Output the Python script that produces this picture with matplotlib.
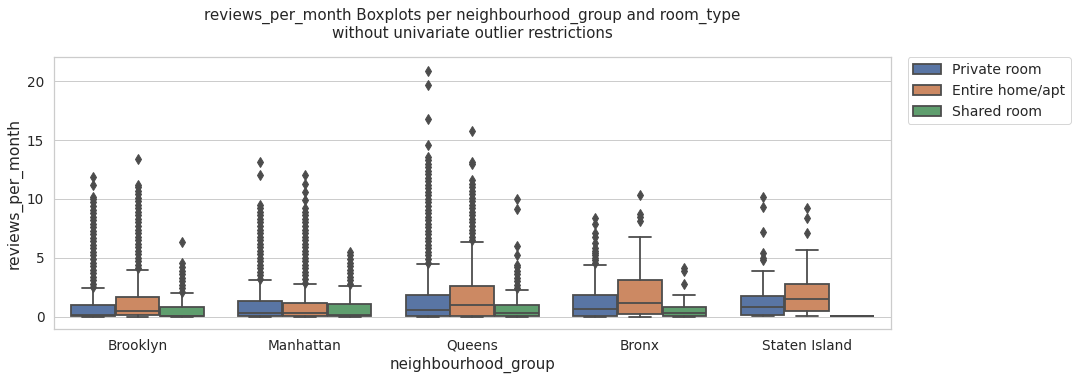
import matplotlib
matplotlib.use("Agg")
import matplotlib.pyplot as plt
import matplotlib.patches as mpatches
import seaborn as sns

groups = ["Brooklyn", "Manhattan", "Queens", "Bronx", "Staten Island"]
room_types = ["Private room", "Entire home/apt", "Shared room"]

# statistics per room type (rows) and neighbourhood group (columns)
whislo = [[0.0, 0.0, 0.0, 0.0, 0.02],
          [0.0, 0.0, 0.0, 0.0, 0.03],
          [0.0, 0.0, 0.0, 0.0, 0.08]]
q1 = [[0.03, 0.05, 0.1, 0.1, 0.17],
      [0.11, 0.08, 0.1, 0.22, 0.48],
      [0.02, 0.03, 0.03, 0.05, 0.08]]
med = [[0.17, 0.3, 0.56, 0.62, 0.79],
       [0.45, 0.3, 0.96, 1.2, 1.5],
       [0.1, 0.15, 0.3, 0.3, 0.08]]
q3 = [[0.96, 1.3, 1.86, 1.86, 1.78],
      [1.69, 1.19, 2.63, 3.08, 2.8],
      [0.85, 1.1, 1.02, 0.85, 0.08]]
whishi = [[2.4, 3.1, 4.5, 4.43, 3.92],
          [4.0, 2.8, 6.35, 6.78, 5.7],
          [1.98, 2.65, 2.3, 1.86, 0.08]]

fliers_private = [
    [2.5, 2.8, 3.1, 3.4, 3.7, 4.0, 4.3, 4.6, 4.9, 5.2, 5.5, 5.8, 6.1, 6.4, 6.7, 7.0,
     7.3, 7.6, 7.9, 8.2, 8.5, 8.8, 9.1, 9.4, 9.7, 10.0, 10.2, 11.2, 11.9],
    [3.2, 3.5, 3.8, 4.1, 4.4, 4.7, 5.0, 5.3, 5.6, 5.9, 6.2, 6.5, 6.8, 7.1, 7.4, 7.7,
     8.0, 8.3, 8.6, 8.9, 9.2, 9.5, 12.0, 13.1],
    [4.6, 4.9, 5.2, 5.5, 5.8, 6.1, 6.4, 6.7, 7.0, 7.3, 7.6, 7.9, 8.2, 8.5, 8.8, 9.1,
     9.4, 9.7, 10.0, 10.3, 10.6, 10.9, 11.2, 11.5, 11.8, 12.1, 12.4, 12.7, 13.0, 13.3,
     13.6, 14.6, 16.8, 19.7, 20.9],
    [4.6, 4.8, 5.0, 5.2, 5.4, 5.6, 5.8, 6.3, 6.8, 7.1, 7.9, 8.4],
    [4.8, 5.0, 5.4, 7.2, 9.3, 10.2],
]
fliers_entire = [
    [4.1, 4.4, 4.7, 5.0, 5.3, 5.6, 5.9, 6.2, 6.5, 6.8, 7.1, 7.4, 7.7, 8.0, 8.3, 8.6,
     8.9, 9.2, 9.5, 9.8, 10.1, 10.4, 10.7, 11.0, 11.2, 13.4],
    [2.9, 3.2, 3.5, 3.8, 4.1, 4.4, 4.7, 5.0, 5.3, 5.6, 5.9, 6.2, 6.5, 6.8, 7.1, 7.4,
     7.7, 8.0, 8.3, 8.6, 8.9, 9.2, 9.9, 10.6, 11.3, 12.0],
    [6.5, 6.8, 7.1, 7.4, 7.7, 8.0, 8.3, 8.6, 8.9, 9.2, 9.5, 9.8, 10.1, 10.4, 10.7,
     11.0, 11.3, 11.6, 12.95, 13.15, 15.8],
    [8.1, 8.5, 8.7, 10.3],
    [7.1, 8.4, 9.2],
]
fliers_shared = [
    [2.1, 2.4, 2.7, 3.0, 3.3, 3.6, 3.9, 4.2, 4.6, 6.35],
    [2.8, 3.1, 3.4, 3.7, 4.0, 4.3, 4.6, 4.9, 5.2, 5.5],
    [2.4, 2.7, 3.0, 3.3, 3.6, 3.9, 4.2, 4.4, 5.25, 6.0, 9.15, 10.0],
    [2.8, 3.9, 4.15],
    [],
]
fliers = [fliers_private, fliers_entire, fliers_shared]

sns.set_theme(style="whitegrid", font_scale=1.2)
plt.rcParams['font.family'] = ['DejaVu Sans']

base = sns.color_palette("deep")[:3]
colors = [sns.desaturate(c, 0.75) for c in base]
gray = "#4c4c4c"
lw = 1.8

fig, ax = plt.subplots(figsize=(1076 / 72, 380 / 72), dpi=72)
fig.subplots_adjust(left=0.050, right=0.828, top=0.85, bottom=0.134)

n = len(room_types)
each = 0.8 / n
for r in range(n):
    stats = []
    for g in range(len(groups)):
        stats.append(dict(whislo=whislo[r][g], q1=q1[r][g], med=med[r][g],
                          q3=q3[r][g], whishi=whishi[r][g], fliers=fliers[r][g]))
    positions = [g - 0.4 + each / 2 + r * each for g in range(len(groups))]
    ax.bxp(stats, positions=positions, widths=each * 0.98, patch_artist=True,
           showfliers=True, manage_ticks=False,
           boxprops=dict(facecolor=colors[r], edgecolor=gray, linewidth=lw),
           medianprops=dict(color=gray, linewidth=lw),
           whiskerprops=dict(color=gray, linewidth=lw),
           capprops=dict(color=gray, linewidth=lw),
           flierprops=dict(marker="d", markerfacecolor=gray, markeredgecolor=gray,
                           markersize=7, linestyle="none"))

ax.set_xlim(-0.5, len(groups) - 0.5)
ax.set_ylim(-1.05, 22.05)
ax.set_xticks(range(len(groups)))
ax.set_xticklabels(groups)
ax.set_yticks([0, 5, 10, 15, 20])
ax.tick_params(axis="both", labelsize=13.6)
ax.grid(axis="x", visible=False)
ax.grid(axis="y", visible=True)
ax.set_xlabel("neighbourhood_group", fontsize=15)
ax.set_ylabel("reviews_per_month", fontsize=15.5)
ax.set_title("reviews_per_month Boxplots per neighbourhood_group and room_type\n"
             "without univariate outlier restrictions", pad=19, fontsize=15.1)

handles = [mpatches.Patch(facecolor=colors[r], edgecolor=gray, linewidth=lw,
                          label=room_types[r]) for r in range(n)]
ax.legend(handles=handles, loc="upper left", bbox_to_anchor=(1.02, 1),
          borderaxespad=0, fontsize=14)

fig.savefig("out.png", dpi=72)
